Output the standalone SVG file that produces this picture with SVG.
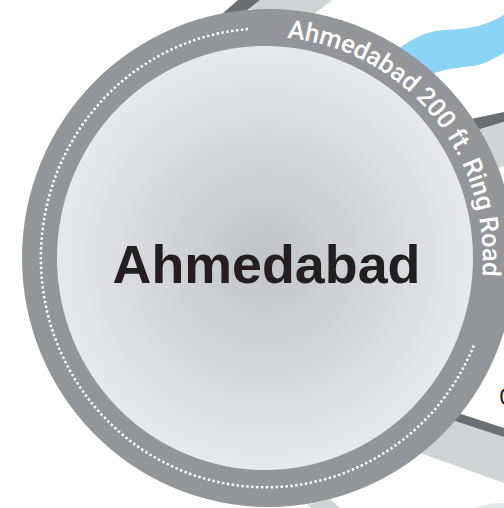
<svg xmlns="http://www.w3.org/2000/svg" width="504" height="508" viewBox="0 0 504 508">
<defs>
<radialGradient id="disc" gradientUnits="userSpaceOnUse" cx="265" cy="258" r="212">
<stop offset="0" stop-color="#c2c3c5"/><stop offset="0.55" stop-color="#d6d7d9"/><stop offset="1" stop-color="#e8e9eb"/>
</radialGradient>
<path id="ringText" d="M 287 38 A 216 221 0 0 1 482 277"/>
</defs>
<style>
.light{fill:#d1d3d4}
.dark{fill:#6d6e71}
.label{font-family:"Roboto","Liberation Sans",sans-serif}
</style>
<rect width="504" height="508" fill="#fff"/>
<g id="background">
<path class="light" d="M247 9L260 0H332L314 14Z"/>
<path class="dark" d="M222 14L238 0H260L246 11Z"/>
<path d="M397 50C410 40 422 34 432 32C442 29 452 30 459 29C475 28 490 23 504 15V53C492 60 482 65 472 66C460 68 445 68 430 75Z" fill="#8ad4f6"/>
<path class="dark" d="M466 120L504 112V122L474 131Z"/>
<path class="light" d="M474 131L504 122V166L494 169Z"/>
<path class="light" d="M450 418L504 437V483L420 453Z"/>
<path class="dark" d="M452 420L458 413L504 428V437Z"/>
<path class="light" d="M307 505L330 499L340 508H312Z"/>
<path d="M474 508C484 504 494 503 504 503V508Z" fill="#e6e7e8"/>
<text class="label" x="499" y="404.5" font-size="23" fill="#231f20">C</text>
</g>
<g id="ahmedabad">
<ellipse cx="268.5" cy="258" rx="246.5" ry="249" fill="#939598"/>
<ellipse cx="265" cy="258" rx="208" ry="212" fill="url(#disc)"/>
<path d="M 248 29 A 225 229.5 0 1 0 474 345" fill="none" stroke="#fff" stroke-width="2.5" stroke-dasharray="2.4 2.5"/>
<text class="label" font-size="25.5" font-weight="500" fill="#fff"><textPath href="#ringText">Ahmedabad 200 ft. Ring Road</textPath></text>
<text x="266.5" y="283" text-anchor="middle" font-family="'Liberation Sans',Arial,sans-serif" font-weight="700" font-size="53.8" fill="#231f20">Ahmedabad</text>
</g>
<g id="connectors"/>
</svg>
